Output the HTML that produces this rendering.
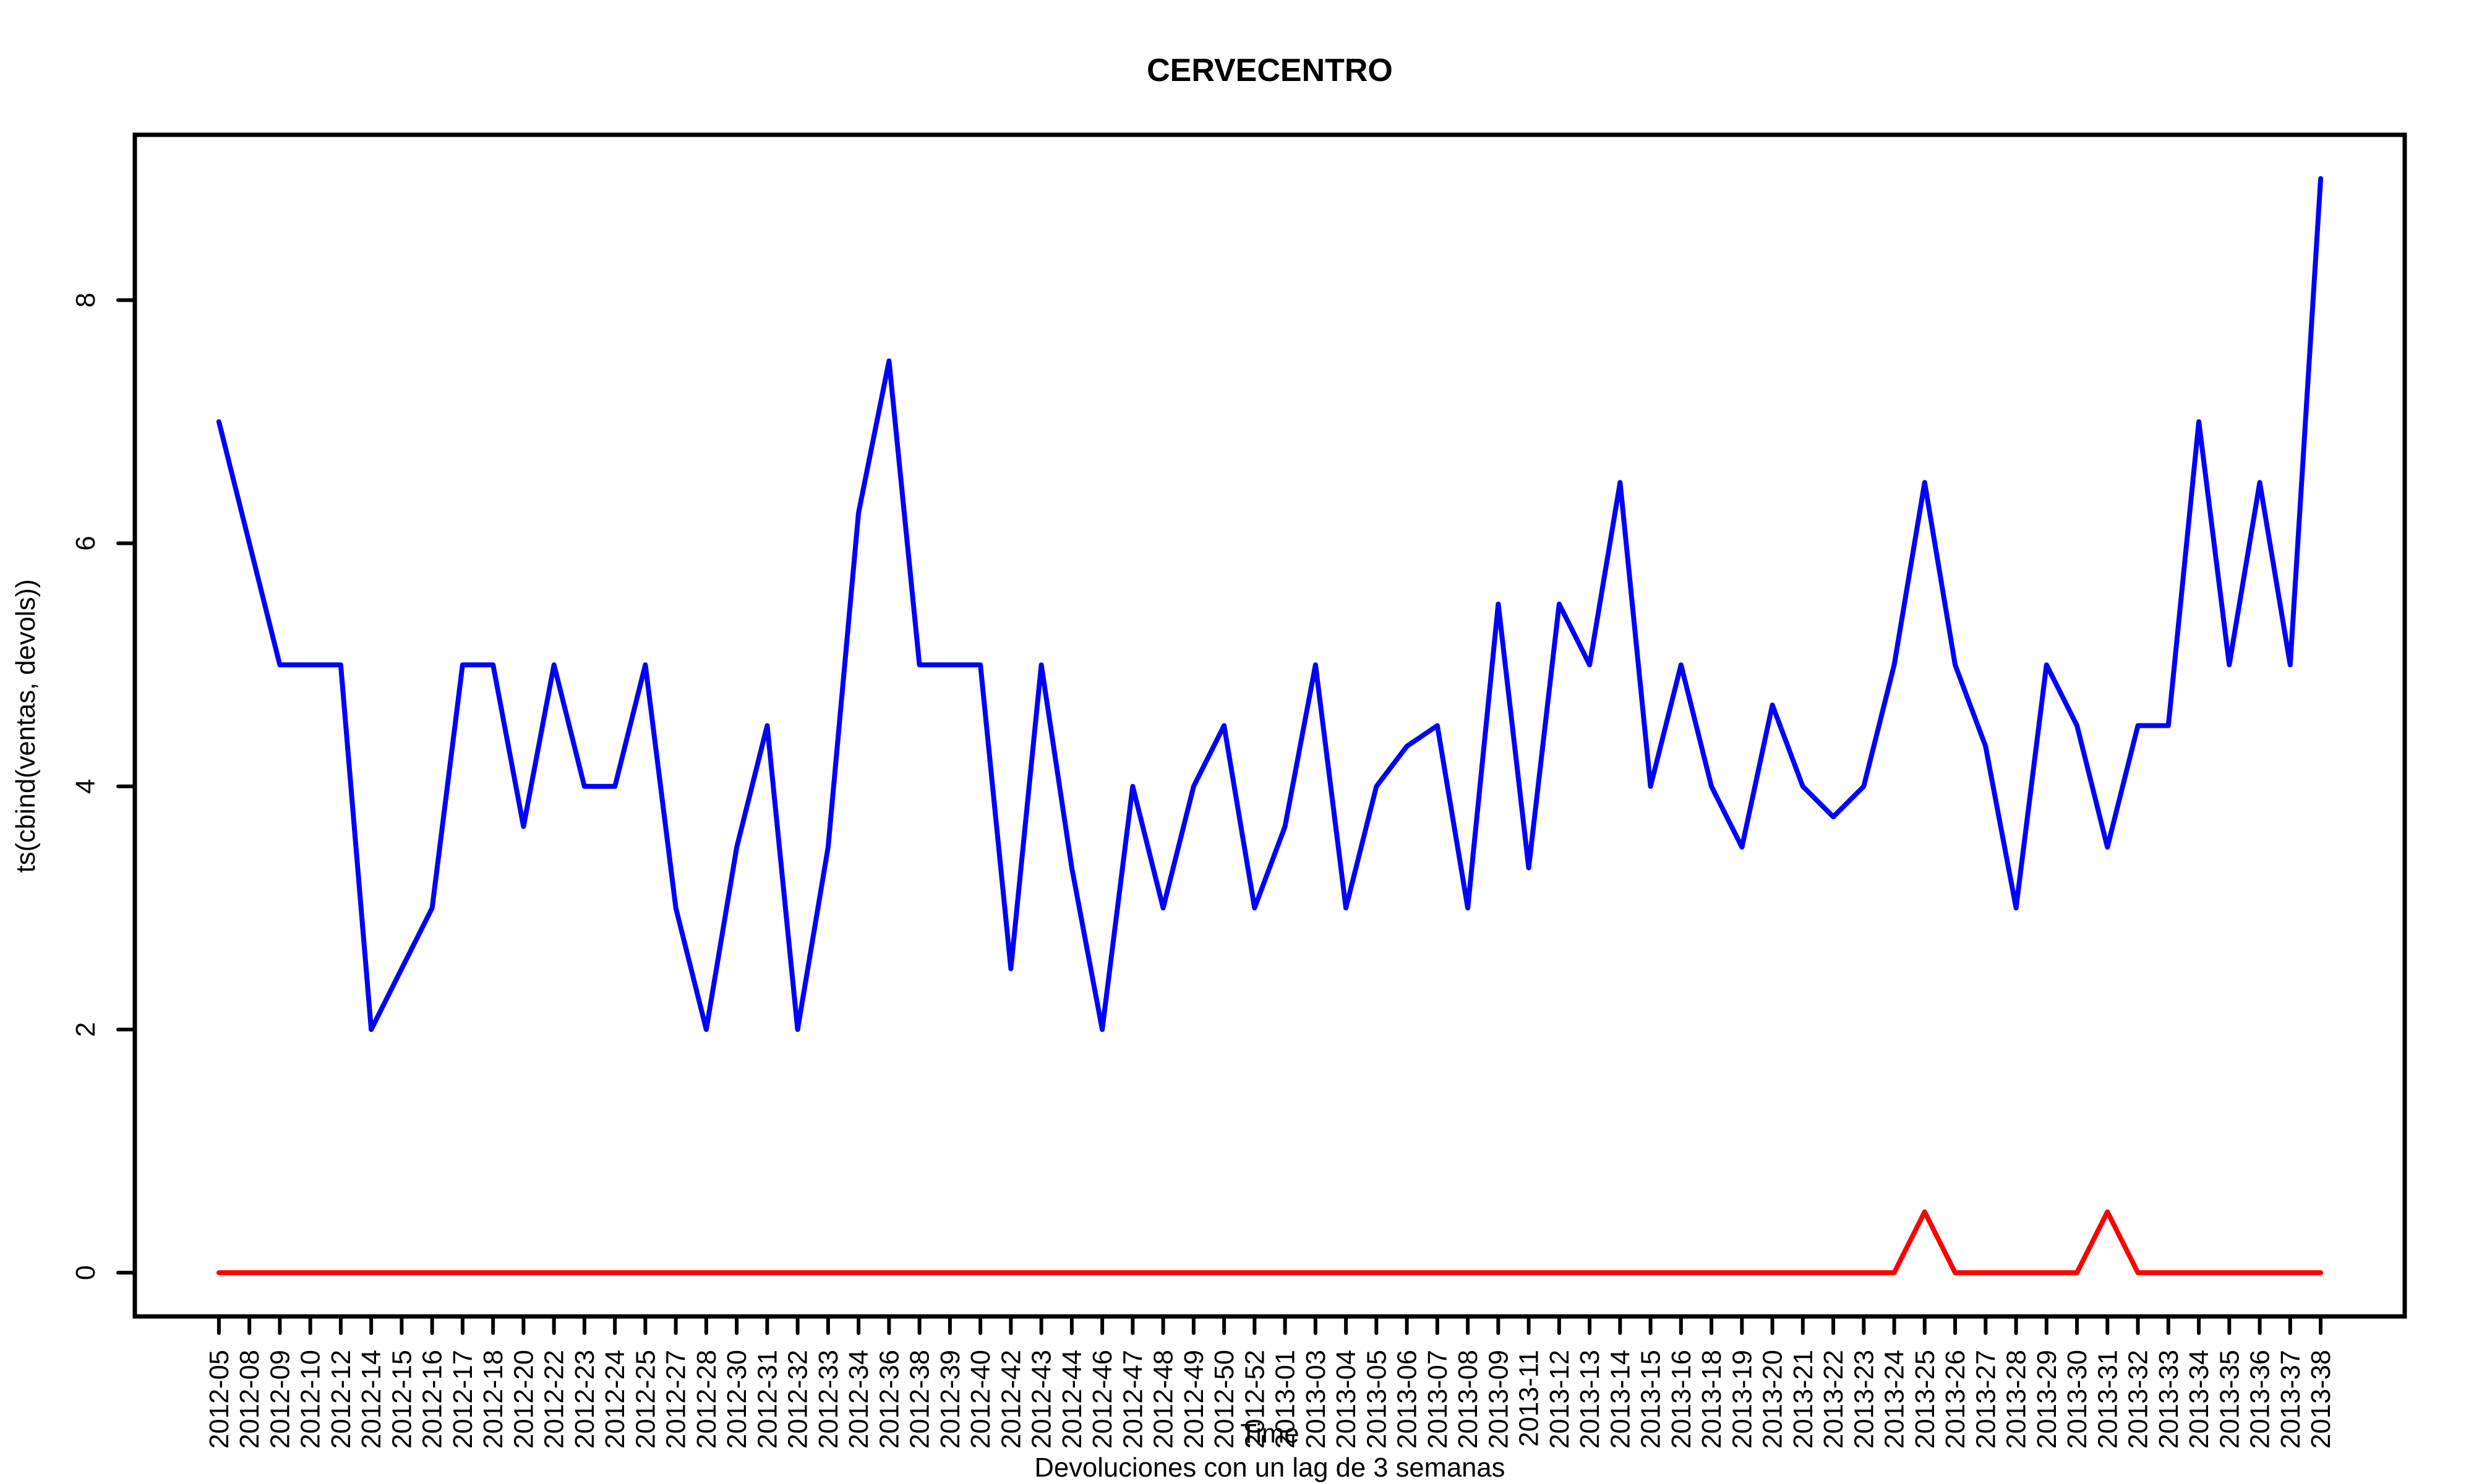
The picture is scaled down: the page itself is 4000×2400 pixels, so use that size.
<!DOCTYPE html>
<html><head><meta charset="utf-8"><style>
html,body{margin:0;padding:0;background:#fff;}
svg{display:block;font-family:"Liberation Sans",Arial,sans-serif;}
</style></head><body>
<svg id="chart" width="4000" height="2400" viewBox="0 0 4000 2400" xmlns="http://www.w3.org/2000/svg">
<rect width="4000" height="2400" fill="#fff"/>
<text x="2053" y="131" font-size="52" font-weight="bold" text-anchor="middle">CERVECENTRO</text>
<text transform="translate(56,1174) rotate(-90)" font-size="43.6" text-anchor="middle">ts(cbind(ventas, devols))</text>
<text x="2053" y="2333" font-size="43.6" text-anchor="middle">Time</text>
<text x="2053" y="2388" font-size="43.6" text-anchor="middle">Devoluciones con un lag de 3 semanas</text>
<g id="gx"></g>
<g id="gy"></g>
<g id="gs"></g>
<rect x="218" y="218" width="3670" height="1911" fill="none" stroke="#000" stroke-width="7"/>
</svg>
<script>
const categories = ["2012-05","2012-08","2012-09","2012-10","2012-12","2012-14","2012-15","2012-16","2012-17","2012-18","2012-20","2012-22","2012-23","2012-24","2012-25","2012-27","2012-28","2012-30","2012-31","2012-32","2012-33","2012-34","2012-36","2012-38","2012-39","2012-40","2012-42","2012-43","2012-44","2012-46","2012-47","2012-48","2012-49","2012-50","2012-52","2013-01","2013-03","2013-04","2013-05","2013-06","2013-07","2013-08","2013-09","2013-11","2013-12","2013-13","2013-14","2013-15","2013-16","2013-18","2013-19","2013-20","2013-21","2013-22","2013-23","2013-24","2013-25","2013-26","2013-27","2013-28","2013-29","2013-30","2013-31","2013-32","2013-33","2013-34","2013-35","2013-36","2013-37","2013-38"];
const ventas = [7,6,5,5,5,2,2.5,3,5,5,3.67,5,4,4,5,3,2,3.5,4.5,2,3.5,6.25,7.5,5,5,5,2.5,5,3.33,2,4,3,4,4.5,3,3.67,5,3,4,4.33,4.5,3,5.5,3.33,5.5,5,6.5,4,5,4,3.5,4.67,4,3.75,4,5,6.5,5,4.33,3,5,4.5,3.5,4.5,4.5,7,5,6.5,5,9];
const devols = [0,0,0,0,0,0,0,0,0,0,0,0,0,0,0,0,0,0,0,0,0,0,0,0,0,0,0,0,0,0,0,0,0,0,0,0,0,0,0,0,0,0,0,0,0,0,0,0,0,0,0,0,0,0,0,0,0.5,0,0,0,0,0,0.5,0,0,0,0,0,0,0];
const yTicks = [0,2,4,6,8];

const NS="http://www.w3.org/2000/svg";
const L=218,R=3888,T=218,B=2129;
const n=categories.length;
const xmin=1-0.04*(n-1), xmax=n+0.04*(n-1);
const ymin=-0.36, ymax=9.36;
function xs(i){return L+(i+1-xmin)/(xmax-xmin)*(R-L);}
function ys(v){return B-(v-ymin)/(ymax-ymin)*(B-T);}
function mk(tag,attrs,parent){const e=document.createElementNS(NS,tag);for(const k in attrs)e.setAttribute(k,attrs[k]);parent.appendChild(e);return e;}
const gx=document.getElementById('gx'),gy=document.getElementById('gy'),gs=document.getElementById('gs');
categories.forEach((c,i)=>{
  const x=xs(i);
  const t=mk('line',{x1:x,x2:x,y1:B,y2:B+27,stroke:'#000','stroke-width':6,'stroke-linecap':'round'},gx);
  
  
  const lb=mk('text',{transform:`translate(${x+15},2183) rotate(-90)`,'font-size':43.6,'text-anchor':'end'},gx);
  lb.textContent=c;
  
  
});
yTicks.forEach(v=>{
  const y=ys(v);
  const t=mk('line',{x1:191,x2:L,y1:y,y2:y,stroke:'#000','stroke-width':6,'stroke-linecap':'round'},gy);
  
  
  const lb=mk('text',{transform:`translate(153,${y}) rotate(-90)`,'font-size':43.6,'text-anchor':'middle'},gy);
  lb.textContent=String(v);
  
  
});
function line(vals,color,name){
  const p=mk('polyline',{points:vals.map((v,i)=>xs(i).toFixed(1)+','+ys(v).toFixed(1)).join(' '),fill:'none',stroke:color,'stroke-width':8,'stroke-linejoin':'round','stroke-linecap':'round'},gs);
  
  
}
line(ventas,'#0000ff','ventas-line');
line(devols,'#ff0000','devols-line');
</script>
</body></html>
